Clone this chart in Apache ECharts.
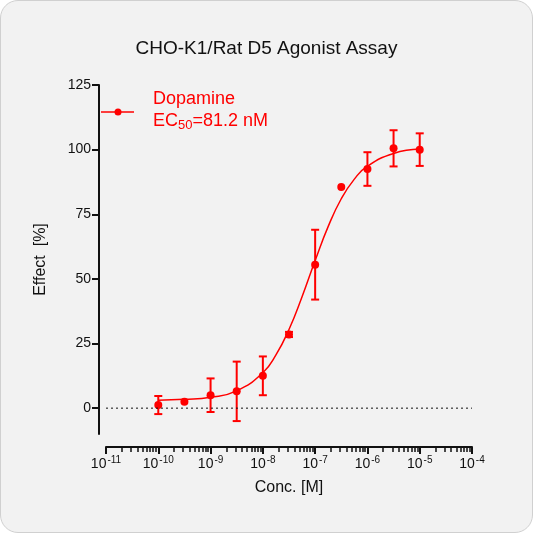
<!DOCTYPE html>
<html><head><meta charset="utf-8">
<script src="https://cdn.jsdelivr.net/npm/echarts@6/dist/echarts.min.js"></script>
<style>html,body{margin:0;background:#fff}#c{width:531px;height:531px;border:1px solid #d0d0d0;border-radius:18px;background:#f2f2f2;overflow:hidden}</style>
</head><body><div id="c"></div>
<script>
const concentrations=[1e-10,3.16e-10,1e-9,3.16e-9,1e-8,3.16e-8,1e-7,3.16e-7,1e-6,3.16e-6,1e-5];
const effects=[1.2,2.5,5,6.5,12.5,28.5,55.5,85.5,92.5,100.5,100];
const errors=[3.5,0,6.5,11.5,7.5,1,13.5,0,6.5,7,6.3];
const curveX=[1e-10,3.16e-10,1e-9,3.16e-9,1e-8,1.78e-8,3.16e-8,5.62e-8,1e-7,1.78e-7,3.16e-7,5.62e-7,1e-6,3.16e-6,1e-5];
const curveY=[3.1,3.4,4.2,6.7,13.7,20.6,30.4,43.1,57.1,70.3,81,88.6,93.6,98.5,100.2];
const yTicks=[0,25,50,75,100,125];
const baseline=[[1e-11,0],[1e-4,0]];
const red='#ff0000';
const chart=echarts.init(document.getElementById('c'));
chart.setOption({
  title:{text:'CHO-K1/Rat D5 Agonist Assay',left:'center',top:33,textStyle:{fontFamily:'Liberation Sans',fontSize:19,fontWeight:'normal',color:'#111'}},
  grid:{left:105,right:60,top:84,bottom:98},
  xAxis:{type:'log',logBase:10,min:1e-11,max:1e-4,offset:13,name:'Conc. [M]',nameLocation:'middle',nameGap:33,
    nameTextStyle:{fontFamily:'Liberation Sans',fontSize:16,color:'#111'},
    axisLine:{onZero:false,lineStyle:{color:'#111',width:2}},axisTick:{length:7,lineStyle:{color:'#111',width:2}},
    minorTick:{show:true,splitNumber:9,length:5,lineStyle:{color:'#111',width:1.5}},
    splitLine:{show:false},
    axisLabel:{margin:8,fontFamily:'Liberation Sans',fontSize:14,color:'#111',formatter:v=>'10{s|'+Math.round(Math.log10(v))+'}',
      rich:{s:{fontSize:10,fontFamily:'Liberation Sans',color:'#111',verticalAlign:'top',padding:[0,0,8,1]}}}},
  yAxis:{type:'value',min:-10,max:125,interval:25,offset:7,name:'Effect  [%]',nameLocation:'middle',nameGap:50,
    nameTextStyle:{fontFamily:'Liberation Sans',fontSize:16,color:'#111'},
    axisLine:{show:true,lineStyle:{color:'#111',width:2}},
    splitLine:{show:false},
    axisLabel:{fontFamily:'Liberation Sans',fontSize:14,color:'#111',customValues:yTicks},
    axisTick:{show:true,length:7,lineStyle:{color:'#111',width:2},customValues:yTicks}},
  series:[
    {type:'line',data:baseline,showSymbol:false,silent:true,lineStyle:{color:'#111',type:[2,3],width:1}},
    {type:'line',data:curveX.map((x,i)=>[x,curveY[i]]),smooth:true,showSymbol:false,lineStyle:{color:red,width:1.5},silent:true},
    {type:'custom',data:concentrations.map((x,i)=>[x,effects[i],errors[i]]),renderItem:(p,api)=>{
      const x=api.value(0),y=api.value(1),e=api.value(2);
      if(!e)return {type:'group',children:[]};
      const a=api.coord([x,y+e]),b=api.coord([x,y-e]);const w=4;
      const st={stroke:red,lineWidth:2};
      return {type:'group',children:[
        {type:'line',shape:{x1:a[0],y1:a[1],x2:b[0],y2:b[1]},style:st},
        {type:'line',shape:{x1:a[0]-w,y1:a[1],x2:a[0]+w,y2:a[1]},style:st},
        {type:'line',shape:{x1:b[0]-w,y1:b[1],x2:b[0]+w,y2:b[1]},style:st}]};
    }},
    {type:'scatter',data:concentrations.map((x,i)=>[x,effects[i]]),symbolSize:8,itemStyle:{color:red,opacity:1}}
  ],
  graphic:[
    {type:'line',shape:{x1:100,y1:111,x2:133,y2:111},style:{stroke:red,lineWidth:1.5}},
    {type:'circle',shape:{cx:117,cy:111,r:3.5},style:{fill:red}},
    {type:'text',left:152,top:87,style:{text:'Dopamine\nEC{s|50}=81.2 nM',fill:red,font:'18px Liberation Sans',lineHeight:22,rich:{s:{fontSize:13,fill:red,verticalAlign:'bottom',padding:[8,0,0,0]}}}}
  ]
});
</script></body></html>
